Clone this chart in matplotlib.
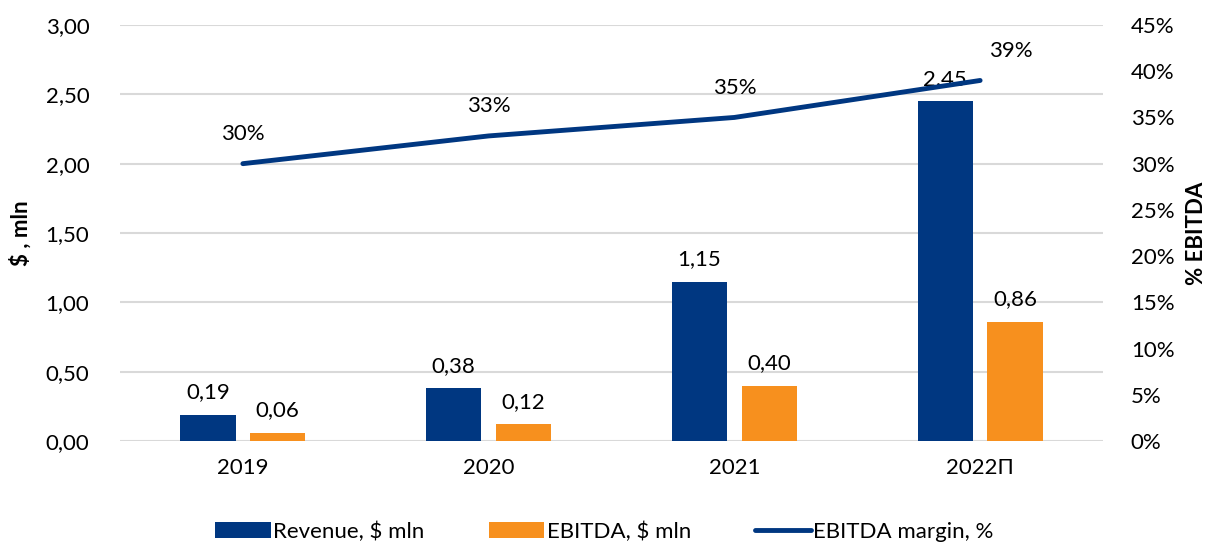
import numpy as np
import matplotlib.pyplot as plt

years = ['2019', '2020', '2021', '2022П']
revenue = [0.19, 0.38, 1.15, 2.45]
ebitda = [0.06, 0.12, 0.40, 0.86]
margin = [30, 33, 35, 39]

blue = '#003781'
orange = '#F7901E'
grid = '#D9D9D9'

plt.rcParams['font.family'] = ['Lato', 'DejaVu Sans']
plt.rcParams['font.size'] = 16


def comma(v):
    return f'{v:.2f}'.replace('.', ',')


fig = plt.figure(figsize=(12.09, 5.43), dpi=100)
ax = fig.add_axes([120 / 1209, 1 - 441 / 543, 983 / 1209, 416 / 543])
ax2 = ax.twinx()

x = np.arange(len(years))
w = 0.224
off = 0.142
b1 = ax.bar(x - off, revenue, w, color=blue, label='Revenue, $ mln', zorder=2)
b2 = ax.bar(x + off, ebitda, w, color=orange, label='EBITDA, $ mln', zorder=2)

for xi, v in zip(x - off, revenue):
    ax.annotate(comma(v), (xi, v), xytext=(0, 9), textcoords='offset points',
                ha='center', va='bottom')
for xi, v in zip(x + off, ebitda):
    ax.annotate(comma(v), (xi, v), xytext=(0, 9), textcoords='offset points',
                ha='center', va='bottom')

ln, = ax2.plot(x, margin, color=blue, lw=3.5, solid_capstyle='round',
               label='EBITDA margin, %', zorder=3)
for i, v in enumerate(margin):
    dx = 22 if i == len(margin) - 1 else 0
    ax2.annotate(f'{v}%', (x[i], v), xytext=(dx, 14), textcoords='offset points',
                 ha='center', va='bottom')

ax.set_xlim(-0.5, len(years) - 0.5)
ax.set_ylim(0, 3.0)
ax.set_yticks(np.arange(0, 3.01, 0.5))
ax.set_yticklabels([comma(t) for t in np.arange(0, 3.01, 0.5)])
ax2.set_ylim(0, 45)
ax2.set_yticks(np.arange(0, 46, 5))
ax2.set_yticklabels([f'{t}%' for t in range(0, 46, 5)])

ax.set_xticks(x)
ax.set_xticklabels(years)
ax.yaxis.grid(True, color=grid, lw=1.5, zorder=0)
ax.set_axisbelow(True)

for a in (ax, ax2):
    for s in a.spines.values():
        s.set_visible(False)
    a.tick_params(length=0)
ax.tick_params(axis='y', pad=22)
ax.tick_params(axis='x', pad=12)
ax2.tick_params(axis='y', pad=20)

ax.set_ylabel('$ , mln', fontweight='bold', labelpad=10)
ax2.set_ylabel('% EBITDA', fontweight='bold', labelpad=8)

fig.legend(handles=[b1, b2, ln], loc='lower center', ncol=3, frameon=False,
           bbox_to_anchor=(0.5, -0.035), handlelength=2.5, handletextpad=0.1,
           columnspacing=2.9)

fig.savefig('out.png', dpi=100)
